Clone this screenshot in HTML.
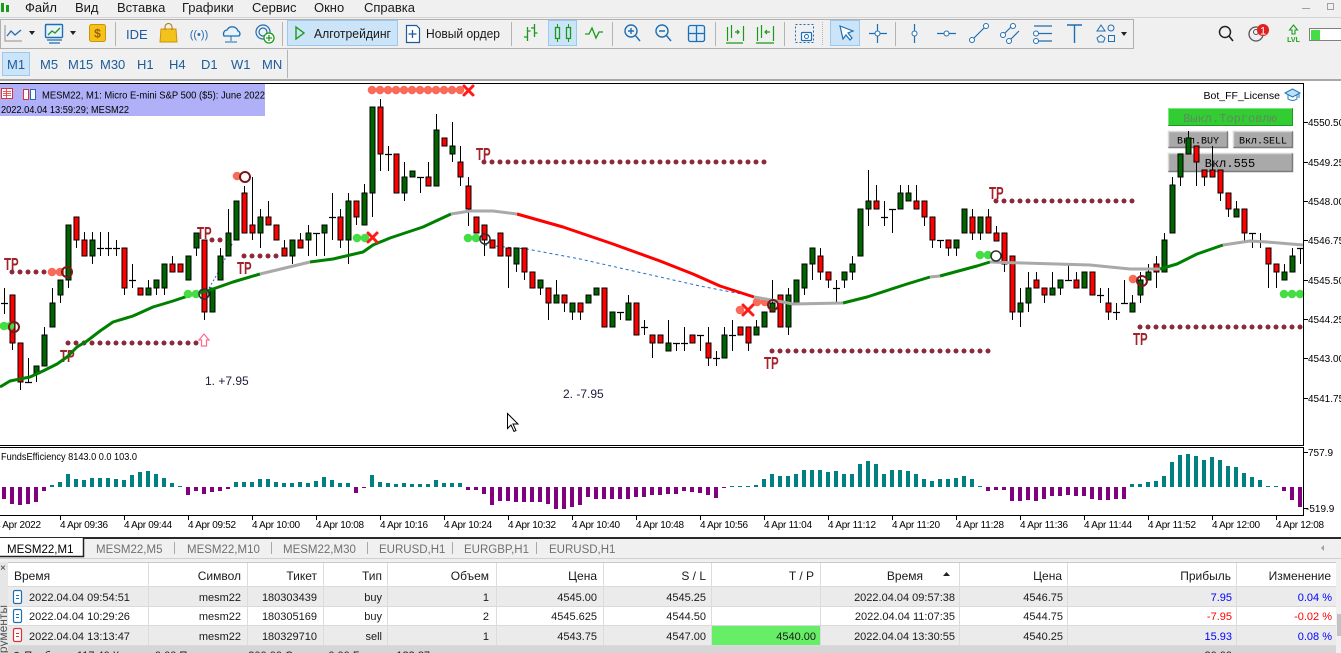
<!DOCTYPE html>
<html><head><meta charset="utf-8">
<style>
html,body{margin:0;padding:0;background:#f0f0f0;overflow:hidden;}
svg{display:block;font-family:"Liberation Sans","DejaVu Sans",sans-serif;}
.mono{font-family:"Liberation Mono","DejaVu Sans Mono",monospace;}
</style></head><body>
<svg width="1341" height="653" viewBox="0 0 1341 653" xmlns="http://www.w3.org/2000/svg">
<rect width="1341" height="653" fill="#f0f0f0"/>

<!-- MENU -->
<g fill="#1a9a1a"><rect x="1" y="3" width="3" height="9"/><rect x="6" y="5" width="3" height="7"/></g>
<g font-size="13" fill="#1a1a1a">
<text x="25" y="12">Файл</text><text x="75" y="12">Вид</text><text x="117" y="12">Вставка</text>
<text x="182" y="12">Графики</text><text x="252" y="12">Сервис</text><text x="314" y="12">Окно</text><text x="364" y="12">Справка</text>
</g>
<line x1="1302" y1="8.5" x2="1310" y2="8.5" stroke="#a0a0a0"/>
<rect x="1327.5" y="3.5" width="6" height="6" fill="none" stroke="#a0a0a0"/>
<line x1="0" y1="17.5" x2="1341" y2="17.5" stroke="#d4d4d4"/>

<!-- TOOLBAR -->
<rect x="0.5" y="19.5" width="1133" height="29" fill="#f0f0f0" stroke="#b0b0b0"/>
<path d="M5 25V41H22" fill="none" stroke="#909090"/>
<path d="M7 36L11 31L15 35L21 30" fill="none" stroke="#2a6ab0" stroke-width="1.3"/>
<path d="M29 31h6l-3 4z" fill="#222"/>
<rect x="45.5" y="24.5" width="17" height="13" rx="1" fill="#eaf2fb" stroke="#1e6eb4" stroke-width="1.4"/>
<path d="M48 35l4-4 3 2 5-5" fill="none" stroke="#1a9a1a" stroke-width="1.3"/>
<path d="M47 40h15M49 43h11" stroke="#1e6eb4" stroke-width="1.3"/>
<path d="M70 31h6l-3 4z" fill="#222"/>
<rect x="89.5" y="24.5" width="16" height="17" rx="2" fill="#f6c21a" stroke="#c8960a"/>
<text x="97.5" y="37.5" font-size="12" font-weight="bold" fill="#9a6400" text-anchor="middle">$</text>
<line x1="115.5" y1="22" x2="115.5" y2="46" stroke="#b4b4b4"/>
<text x="126" y="39" font-size="13" fill="#1e5aa0">IDE</text>
<path d="M161 29h15l1 13h-17z" fill="#f3c21b" stroke="#c8960a"/>
<path d="M165 30v-3a3.5 3.5 0 0 1 7 0v3" fill="none" stroke="#b07800"/>
<text x="199" y="38" font-size="11" fill="#2a6ab4" text-anchor="middle">((•))</text>
<path d="M224 36a4 4 0 0 1 3-6a6 6 0 0 1 11 1a3 3 0 0 1 1 5z" fill="#e8f2fb" stroke="#1e6eb4" stroke-width="1.3"/>
<path d="M231 36v5M225 42h12" stroke="#1e6eb4"/>
<circle cx="263" cy="32" r="7" fill="none" stroke="#1e6eb4" stroke-width="1.2"/>
<circle cx="263" cy="32" r="4" fill="none" stroke="#1e6eb4" stroke-width="1.2"/>
<circle cx="269" cy="38" r="5" fill="#fff" stroke="#1a9a1a" stroke-width="1.3"/>
<path d="M269 35v6M266 38h6" stroke="#1a9a1a" stroke-width="1.3"/>
<line x1="282.5" y1="22" x2="282.5" y2="46" stroke="#b4b4b4"/>
<rect x="287.5" y="20.5" width="110" height="25" fill="#cce4f7" stroke="#99c9ef"/>
<path d="M296 27l8 6l-8 6z" fill="none" stroke="#1a9a1a" stroke-width="1.4"/>
<text x="314" y="38" font-size="13" fill="#1a1a1a" textLength="77" lengthAdjust="spacingAndGlyphs">Алготрейдинг</text>
<path d="M406.5 25.5h10l3 3v14h-13z" fill="#fff" stroke="#1e5aa0" stroke-width="1.2"/>
<path d="M412.5 30v8M408.5 34h8" stroke="#1e5aa0" stroke-width="1.3"/>
<text x="426" y="38" font-size="13" fill="#1a1a1a" textLength="74" lengthAdjust="spacingAndGlyphs">Новый ордер</text>
<line x1="511.5" y1="22" x2="511.5" y2="46" stroke="#b4b4b4"/>
<path d="M527.5 27v14M524 37h3.5M527.5 31h3M534.5 24v13M531 28h3.5M534.5 33h3" stroke="#1a9a1a" stroke-width="1.3" fill="none"/>
<rect x="548.5" y="20.5" width="28" height="25" fill="#cce4f7" stroke="#99c9ef"/>
<path d="M557.5 24v18M568.5 24v18" stroke="#1a9a1a"/>
<rect x="555.5" y="27.5" width="4" height="11" fill="#cce4f7" stroke="#1a9a1a" stroke-width="1.3"/>
<rect x="566.5" y="27.5" width="4" height="11" fill="#cce4f7" stroke="#1a9a1a" stroke-width="1.3"/>
<path d="M585 34h4l3-6l4 10l3-6h4" fill="none" stroke="#1a9a1a" stroke-width="1.3"/>
<line x1="612.5" y1="22" x2="612.5" y2="46" stroke="#b4b4b4"/>
<circle cx="631" cy="31" r="6" fill="none" stroke="#1e6eb4" stroke-width="1.4"/>
<path d="M628 31h6M631 28v6M635 35l5 6" stroke="#1e6eb4" stroke-width="1.4"/>
<circle cx="662" cy="31" r="6" fill="none" stroke="#1e6eb4" stroke-width="1.4"/>
<path d="M659 31h6M666 35l5 6" stroke="#1e6eb4" stroke-width="1.4"/>
<rect x="688.5" y="25.5" width="16" height="16" rx="2" fill="#e0ecf8" stroke="#1e6eb4" stroke-width="1.3"/>
<path d="M696.5 26v15M689 33.5h15" stroke="#1e6eb4" stroke-width="1.3"/>
<line x1="715.5" y1="22" x2="715.5" y2="46" stroke="#b4b4b4"/>
<path d="M727.5 27v14M731.5 25v13M739 32h-4M737 30l2 2l-2 2M743.5 26v15M726 43h17" stroke="#1a9a1a" stroke-width="1.2" fill="none"/>
<path d="M757.5 27v14M761.5 25v13M765 32h5M767 30l-2 2l2 2M773.5 26v15M756 43h18" stroke="#1a9a1a" stroke-width="1.2" fill="none"/>
<line x1="784.5" y1="22" x2="784.5" y2="46" stroke="#b4b4b4"/>
<rect x="795.5" y="24.5" width="18" height="18" fill="none" stroke="#1e6eb4" stroke-dasharray="2,2"/>
<rect x="801.5" y="32.5" width="10" height="8" rx="1" fill="#fff" stroke="#1e6eb4" stroke-width="1.2"/>
<circle cx="806.5" cy="36.5" r="2" fill="none" stroke="#1e6eb4"/>
<line x1="822.5" y1="22" x2="822.5" y2="46" stroke="#b4b4b4" stroke-dasharray="1,1"/>
<rect x="830.5" y="20.5" width="29" height="25" fill="#cce4f7" stroke="#99c9ef"/>
<path d="M840 26l13 5l-5 2l4 5l-2 2l-4-5l-3 4z" fill="#fff" stroke="#1e6eb4" stroke-width="1.2"/>
<path d="M877.5 24v19M869 33.5h18" stroke="#1e6eb4" stroke-width="1.2"/>
<circle cx="877.5" cy="33.5" r="2.5" fill="#fff" stroke="#1e6eb4"/>
<line x1="895.5" y1="22" x2="895.5" y2="46" stroke="#b4b4b4"/>
<path d="M914.5 24v19" stroke="#1e6eb4" stroke-width="1.2"/><circle cx="914.5" cy="33.5" r="2.5" fill="#fff" stroke="#1e6eb4"/>
<path d="M937 33.5h19" stroke="#1e6eb4" stroke-width="1.2"/><circle cx="946.5" cy="33.5" r="2.5" fill="#fff" stroke="#1e6eb4"/>
<path d="M971 41l16-16" stroke="#1e6eb4" stroke-width="1.2"/><circle cx="972" cy="40" r="2.5" fill="#fff" stroke="#1e6eb4"/><circle cx="986" cy="26" r="2.5" fill="#fff" stroke="#1e6eb4"/>
<path d="M1002 36l11-11M1008 42l11-11" stroke="#1e6eb4" stroke-width="1.2"/><circle cx="1003" cy="35" r="2.5" fill="#fff" stroke="#1e6eb4"/><circle cx="1013" cy="26" r="2.5" fill="#fff" stroke="#1e6eb4"/><circle cx="1009" cy="41" r="2.5" fill="#fff" stroke="#1e6eb4"/>
<path d="M1034 26h18M1037 33.5h15M1037 41h15" stroke="#1e6eb4" stroke-width="1.3"/><circle cx="1036" cy="33.5" r="2.5" fill="#fff" stroke="#1e6eb4"/><circle cx="1036" cy="41" r="2.5" fill="#fff" stroke="#1e6eb4"/>
<path d="M1067 25h15M1074.5 25v18" stroke="#1e6eb4" stroke-width="1.4"/>
<path d="M1101 25l4 6h-8z" fill="none" stroke="#1e6eb4"/><circle cx="1111" cy="28" r="3" fill="none" stroke="#1e6eb4"/>
<path d="M1101 35l4 3l-1.5 4h-5l-1.5-4z" fill="none" stroke="#1e6eb4"/><rect x="1108.5" y="35.5" width="6" height="6" fill="none" stroke="#1e6eb4"/>
<path d="M1121 32h6l-3 4z" fill="#222"/>
<circle cx="1225" cy="32" r="5.5" fill="none" stroke="#222" stroke-width="1.5"/><path d="M1229 36l4 5" stroke="#222" stroke-width="1.6"/>
<circle cx="1256" cy="34" r="7" fill="none" stroke="#555" stroke-width="1.3"/><circle cx="1256" cy="32" r="2.5" fill="none" stroke="#555"/>
<circle cx="1263" cy="30" r="6" fill="#e02020"/><text x="1263" y="34.5" font-size="11" fill="#fff" text-anchor="middle">1</text>
<path d="M1293.5 25l4 5h-2.5v4h-3v-4h-2.5z" fill="none" stroke="#1aa01a" stroke-width="1.1"/>
<text x="1293.5" y="42" font-size="7" fill="#1aa01a" text-anchor="middle" font-weight="bold">LVL</text>
<rect x="1309.5" y="28.5" width="34" height="12" fill="#fff" stroke="#808080"/>
<rect x="1311" y="30" width="9" height="10" fill="#44dd44"/>

<!-- TIMEFRAMES -->
<rect x="2.5" y="52.5" width="27" height="23" fill="#cce4f7" stroke="#99c9ef"/>
<g font-size="13" fill="#1c5b9c">
<text x="7" y="69">M1</text><text x="40" y="69">M5</text><text x="68" y="69">M15</text><text x="100" y="69">M30</text>
<text x="137" y="69">H1</text><text x="169" y="69">H4</text><text x="201" y="69">D1</text><text x="231" y="69">W1</text><text x="262" y="69">MN</text>
</g>
<line x1="287.5" y1="50" x2="287.5" y2="78" stroke="#b4b4b4"/>
<rect x="0" y="79" width="1341" height="2" fill="#a8a8a8"/>

<!-- CHART AREA -->
<rect x="0" y="81" width="1341" height="456" fill="#ffffff"/>
<rect x="0" y="84" width="265" height="32" fill="#b0b0f8"/>
<rect x="1.5" y="88.5" width="11" height="10" fill="#fff" stroke="#e03030"/>
<path d="M3 91.5h8M3 93.5h8M3 95.5h8M6.5 89v9" stroke="#e03030" stroke-width="0.8"/>
<path d="M23.5 89.5h5v10h-5z" fill="#fff" stroke="#e03030"/><path d="M30.5 89.5h5v10h-5z" fill="#fff" stroke="#1e6eb4"/>
<text x="42" y="98.5" font-size="10" fill="#000" textLength="223" lengthAdjust="spacingAndGlyphs">MESM22, M1:  Micro E-mini S&amp;P 500 ($5): June 2022</text>
<text x="1" y="113" font-size="10" fill="#000" textLength="128" lengthAdjust="spacingAndGlyphs">2022.04.04 13:59:29; MESM22</text>

<!-- right panel -->
<text x="1280" y="99" font-size="10.5" fill="#000" text-anchor="end">Bot_FF_License</text>
<path d="M1285 93l7.5-4l7.5 4l-7.5 4z" fill="#bfe0f8" stroke="#1e7ac0"/><path d="M1288 95v4c3 2 6 2 9 0v-4M1299 93v5" fill="none" stroke="#1e7ac0"/>

<rect x="1168" y="108" width="125" height="18" fill="#32cd32"/>
<path d="M1168.5 125.5V108.5H1292.5" fill="none" stroke="#7ee67e"/><path d="M1168.5 125.5H1292.5V108.5" fill="none" stroke="#1e9a1e"/>
<text x="1230" y="122" font-size="12" class="mono" fill="#5f8a5f" text-anchor="middle">Выкл.Торговлю</text>
<rect x="1168" y="131" width="60" height="17" fill="#a9a9a9"/>
<path d="M1168.5 147.5V131.5H1227.5" fill="none" stroke="#d8d8d8" stroke-width="1.5"/><path d="M1168.5 147.5H1227.5V131.5" fill="none" stroke="#7a7a7a" stroke-width="1.5"/>
<text x="1198" y="143.5" font-size="10" class="mono" fill="#000" text-anchor="middle">Вкл.BUY</text>
<rect x="1233" y="131" width="60" height="17" fill="#a9a9a9"/>
<path d="M1233.5 147.5V131.5H1292.5" fill="none" stroke="#d8d8d8" stroke-width="1.5"/><path d="M1233.5 147.5H1292.5V131.5" fill="none" stroke="#7a7a7a" stroke-width="1.5"/>
<text x="1263" y="143.5" font-size="10" class="mono" fill="#000" text-anchor="middle">Вкл.SELL</text>
<rect x="1168" y="153" width="125" height="19" fill="#a9a9a9"/>
<path d="M1168.5 171.5V153.5H1292.5" fill="none" stroke="#d8d8d8" stroke-width="1.5"/><path d="M1168.5 171.5H1292.5V153.5" fill="none" stroke="#7a7a7a" stroke-width="1.5"/>
<text x="1230" y="167" font-size="12" class="mono" fill="#000" text-anchor="middle">Вкл.555</text>

<!-- trade lines -->
<polyline points="205,295 212,283 219,271 226,257 233,242" fill="none" stroke="#1e6ec8" stroke-dasharray="2,2"/>
<polyline points="484,245 527,249 580,259 660,277 700,286 757,297 772,303" fill="none" stroke="#1e6ec8" stroke-dasharray="3,3"/>

<!-- TP dotted lines -->
<g fill="#8c2a3c">
<circle cx="12" cy="272" r="2.5"/><circle cx="20" cy="272" r="2.5"/><circle cx="28" cy="272" r="2.5"/><circle cx="36" cy="272" r="2.5"/><circle cx="44" cy="272" r="2.5"/>
<circle cx="68" cy="343" r="2.5"/><circle cx="76" cy="343" r="2.5"/><circle cx="84" cy="343" r="2.5"/><circle cx="92" cy="343" r="2.5"/><circle cx="100" cy="343" r="2.5"/><circle cx="108" cy="343" r="2.5"/><circle cx="116" cy="343" r="2.5"/><circle cx="124" cy="343" r="2.5"/><circle cx="132" cy="343" r="2.5"/><circle cx="140" cy="343" r="2.5"/><circle cx="148" cy="343" r="2.5"/><circle cx="156" cy="343" r="2.5"/><circle cx="164" cy="343" r="2.5"/><circle cx="172" cy="343" r="2.5"/><circle cx="180" cy="343" r="2.5"/><circle cx="188" cy="343" r="2.5"/><circle cx="196" cy="343" r="2.5"/>
<circle cx="212" cy="240" r="2.5"/><circle cx="220" cy="240" r="2.5"/>
<circle cx="244" cy="256" r="2.5"/><circle cx="252" cy="256" r="2.5"/><circle cx="260" cy="256" r="2.5"/><circle cx="268" cy="256" r="2.5"/><circle cx="276" cy="256" r="2.5"/>
<circle cx="484" cy="162" r="2.5"/><circle cx="492" cy="162" r="2.5"/><circle cx="500" cy="162" r="2.5"/><circle cx="508" cy="162" r="2.5"/><circle cx="516" cy="162" r="2.5"/><circle cx="524" cy="162" r="2.5"/><circle cx="532" cy="162" r="2.5"/><circle cx="540" cy="162" r="2.5"/><circle cx="548" cy="162" r="2.5"/><circle cx="556" cy="162" r="2.5"/><circle cx="564" cy="162" r="2.5"/><circle cx="572" cy="162" r="2.5"/><circle cx="580" cy="162" r="2.5"/><circle cx="588" cy="162" r="2.5"/><circle cx="596" cy="162" r="2.5"/><circle cx="604" cy="162" r="2.5"/><circle cx="612" cy="162" r="2.5"/><circle cx="620" cy="162" r="2.5"/><circle cx="628" cy="162" r="2.5"/><circle cx="636" cy="162" r="2.5"/><circle cx="644" cy="162" r="2.5"/><circle cx="652" cy="162" r="2.5"/><circle cx="660" cy="162" r="2.5"/><circle cx="668" cy="162" r="2.5"/><circle cx="676" cy="162" r="2.5"/><circle cx="684" cy="162" r="2.5"/><circle cx="692" cy="162" r="2.5"/><circle cx="700" cy="162" r="2.5"/><circle cx="708" cy="162" r="2.5"/><circle cx="716" cy="162" r="2.5"/><circle cx="724" cy="162" r="2.5"/><circle cx="732" cy="162" r="2.5"/><circle cx="740" cy="162" r="2.5"/><circle cx="748" cy="162" r="2.5"/><circle cx="756" cy="162" r="2.5"/><circle cx="764" cy="162" r="2.5"/>
<circle cx="772" cy="351" r="2.5"/><circle cx="780" cy="351" r="2.5"/><circle cx="788" cy="351" r="2.5"/><circle cx="796" cy="351" r="2.5"/><circle cx="804" cy="351" r="2.5"/><circle cx="812" cy="351" r="2.5"/><circle cx="820" cy="351" r="2.5"/><circle cx="828" cy="351" r="2.5"/><circle cx="836" cy="351" r="2.5"/><circle cx="844" cy="351" r="2.5"/><circle cx="852" cy="351" r="2.5"/><circle cx="860" cy="351" r="2.5"/><circle cx="868" cy="351" r="2.5"/><circle cx="876" cy="351" r="2.5"/><circle cx="884" cy="351" r="2.5"/><circle cx="892" cy="351" r="2.5"/><circle cx="900" cy="351" r="2.5"/><circle cx="908" cy="351" r="2.5"/><circle cx="916" cy="351" r="2.5"/><circle cx="924" cy="351" r="2.5"/><circle cx="932" cy="351" r="2.5"/><circle cx="940" cy="351" r="2.5"/><circle cx="948" cy="351" r="2.5"/><circle cx="956" cy="351" r="2.5"/><circle cx="964" cy="351" r="2.5"/><circle cx="972" cy="351" r="2.5"/><circle cx="980" cy="351" r="2.5"/><circle cx="988" cy="351" r="2.5"/>
<circle cx="996" cy="201" r="2.5"/><circle cx="1004" cy="201" r="2.5"/><circle cx="1012" cy="201" r="2.5"/><circle cx="1020" cy="201" r="2.5"/><circle cx="1028" cy="201" r="2.5"/><circle cx="1036" cy="201" r="2.5"/><circle cx="1044" cy="201" r="2.5"/><circle cx="1052" cy="201" r="2.5"/><circle cx="1060" cy="201" r="2.5"/><circle cx="1068" cy="201" r="2.5"/><circle cx="1076" cy="201" r="2.5"/><circle cx="1084" cy="201" r="2.5"/><circle cx="1092" cy="201" r="2.5"/><circle cx="1100" cy="201" r="2.5"/><circle cx="1108" cy="201" r="2.5"/><circle cx="1116" cy="201" r="2.5"/><circle cx="1124" cy="201" r="2.5"/><circle cx="1132" cy="201" r="2.5"/>
<circle cx="1140" cy="327" r="2.5"/><circle cx="1148" cy="327" r="2.5"/><circle cx="1156" cy="327" r="2.5"/><circle cx="1164" cy="327" r="2.5"/><circle cx="1172" cy="327" r="2.5"/><circle cx="1180" cy="327" r="2.5"/><circle cx="1188" cy="327" r="2.5"/><circle cx="1196" cy="327" r="2.5"/><circle cx="1204" cy="327" r="2.5"/><circle cx="1212" cy="327" r="2.5"/><circle cx="1220" cy="327" r="2.5"/><circle cx="1228" cy="327" r="2.5"/><circle cx="1236" cy="327" r="2.5"/><circle cx="1244" cy="327" r="2.5"/><circle cx="1252" cy="327" r="2.5"/><circle cx="1260" cy="327" r="2.5"/><circle cx="1268" cy="327" r="2.5"/><circle cx="1276" cy="327" r="2.5"/><circle cx="1284" cy="327" r="2.5"/><circle cx="1292" cy="327" r="2.5"/><circle cx="1300" cy="327" r="2.5"/>
</g>
<!-- salmon dots -->
<g fill="#fa6a58">
<circle cx="372" cy="90" r="4.3"/><circle cx="380" cy="90" r="4.3"/><circle cx="388" cy="90" r="4.3"/><circle cx="396" cy="90" r="4.3"/><circle cx="404" cy="90" r="4.3"/><circle cx="412" cy="90" r="4.3"/><circle cx="420" cy="90" r="4.3"/><circle cx="428" cy="90" r="4.3"/><circle cx="436" cy="90" r="4.3"/><circle cx="444" cy="90" r="4.3"/><circle cx="452" cy="90" r="4.3"/><circle cx="460" cy="90" r="4.3"/>
<circle cx="52" cy="272" r="4.3"/><circle cx="60" cy="272" r="4.3"/>
<circle cx="237" cy="176" r="4.3"/>
<circle cx="740" cy="310" r="4.3"/><circle cx="757" cy="302" r="4.3"/><circle cx="765" cy="302" r="4.3"/>
<circle cx="1133" cy="279" r="4.3"/>
</g>
<!-- TP labels -->
<g font-size="18" font-weight="bold" fill="#a2222a">
<text transform="translate(4,270) scale(0.64,1)">TP</text>
<text transform="translate(60,362) scale(0.64,1)">TP</text>
<text transform="translate(197,239) scale(0.64,1)">TP</text>
<text transform="translate(237,274) scale(0.64,1)">TP</text>
<text transform="translate(476,160) scale(0.64,1)">TP</text>
<text transform="translate(764,369) scale(0.64,1)">TP</text>
<text transform="translate(989,199) scale(0.64,1)">TP</text>
<text transform="translate(1133,345) scale(0.64,1)">TP</text>
</g>
<path d="M204 334l5 6h-2.5v6h-5v-6h-2.5z" fill="#fff" stroke="#ff6a8a" stroke-width="1.2"/>

<!-- CANDLES -->
<path stroke="#000" stroke-width="1" fill="none" d="M4.5 288V314M12.5 295V350M20.5 343V390M28.5 358V382M36.5 366V382M44.5 327V366M52.5 288V327M60.5 280V303M68.5 225V288M76.5 217V248M84.5 232V256M92.5 232V264M100.5 232V256M108.5 232V256M116.5 240V256M124.5 248V295M132.5 264V288M148.5 280V295M156.5 280V295M164.5 264V295M172.5 256V272M196.5 233V256M204.5 240V320M220.5 248V280M228.5 209V256M244.5 186V233M252.5 177V240M260.5 209V248M268.5 201V225M284.5 240V256M292.5 240V264M300.5 233V248M308.5 225V256M316.5 233V256M324.5 225V256M332.5 193V240M340.5 209V248M348.5 193V264M356.5 201V225M364.5 184V225M372.5 107V217M380.5 99V171M388.5 146V171M404.5 162V201M420.5 177V193M428.5 162V186M436.5 114V186M452.5 122V162M460.5 146V186M468.5 177V226M484.5 225V256M508.5 248V288M516.5 248V272M524.5 248V280M540.5 280V295M548.5 288V320M556.5 280V303M564.5 295V312M572.5 303V320M580.5 303V320M620.5 312V320M628.5 295V320M644.5 320V335M652.5 335V358M668.5 320V351M676.5 343V351M684.5 327V351M700.5 335V351M708.5 327V366M716.5 351V366M724.5 327V358M732.5 320V351M748.5 327V351M756.5 320V335M772.5 280V312M788.5 288V335M804.5 264V295M812.5 248V280M820.5 248V280M828.5 272V288M836.5 280V303M844.5 272V288M852.5 256V280M868.5 170V226M876.5 185V209M884.5 201V226M892.5 209V233M900.5 185V209M908.5 185V201M916.5 185V209M924.5 201V226M932.5 217V248M940.5 240V248M948.5 240V256M956.5 240V256M972.5 209V240M980.5 217V240M988.5 209V233M996.5 226V241M1004.5 233V272M1012.5 256V320M1020.5 288V327M1028.5 272V312M1036.5 272V288M1044.5 288V303M1052.5 272V295M1060.5 280V295M1068.5 264V280M1076.5 272V288M1100.5 288V303M1108.5 288V320M1116.5 303V320M1124.5 280V303M1132.5 295V312M1140.5 272V303M1148.5 264V280M1156.5 256V288M1164.5 233V272M1172.5 177V233M1180.5 154V186M1188.5 131V154M1196.5 146V186M1204.5 170V186M1212.5 146V177M1220.5 170V201M1228.5 193V217M1236.5 201V217M1244.5 209V241M1252.5 233V248M1260.5 233V248M1268.5 248V288M1276.5 264V288M1284.5 264V280M1292.5 248V272M1300.5 248V264"/>
<path stroke="#000" stroke-width="1.2" fill="none" d="M1 303.5h7M25 382.5h7M97 248.5h7M105 248.5h7M113 248.5h7M129 280.5h7M313 233.5h7M329 217.5h7M385 154.5h7M417 177.5h7M617 312.5h7M641 327.5h7M673 343.5h7M681 343.5h7M697 335.5h7M713 358.5h7M729 335.5h7M833 288.5h7M881 217.5h7M889 209.5h7M937 240.5h7M1065 280.5h7M1097 295.5h7M1113 312.5h7M1121 303.5h7M1249 233.5h7M1257 241.5h7M1297 248.5h7"/>
<g fill="#ff0000" stroke="#000" stroke-width="1">
<rect x="10" y="295" width="5" height="48"/><rect x="18" y="343" width="5" height="39"/><rect x="74" y="217" width="5" height="23"/><rect x="82" y="240" width="5" height="16"/><rect x="122" y="248" width="5" height="40"/><rect x="138" y="288" width="5" height="7"/><rect x="170" y="264" width="5" height="8"/><rect x="178" y="264" width="5" height="8"/><rect x="202" y="240" width="5" height="72"/><rect x="242" y="193" width="5" height="40"/><rect x="250" y="225" width="5" height="8"/><rect x="266" y="217" width="5" height="8"/><rect x="274" y="225" width="5" height="15"/><rect x="282" y="248" width="5" height="8"/><rect x="298" y="240" width="5" height="8"/>
<rect x="338" y="217" width="5" height="23"/><rect x="354" y="201" width="5" height="16"/><rect x="378" y="107" width="5" height="47"/><rect x="394" y="154" width="5" height="39"/><rect x="426" y="177" width="5" height="9"/><rect x="442" y="138" width="5" height="8"/><rect x="458" y="162" width="5" height="15"/><rect x="466" y="186" width="5" height="23"/><rect x="474" y="217" width="5" height="16"/><rect x="482" y="225" width="5" height="15"/><rect x="490" y="240" width="5" height="8"/><rect x="498" y="233" width="5" height="23"/><rect x="506" y="248" width="5" height="8"/><rect x="522" y="248" width="5" height="24"/><rect x="530" y="272" width="5" height="16"/><rect x="546" y="288" width="5" height="15"/><rect x="562" y="295" width="5" height="8"/><rect x="578" y="303" width="5" height="9"/><rect x="602" y="288" width="5" height="39"/><rect x="634" y="303" width="5" height="32"/><rect x="650" y="335" width="5" height="8"/><rect x="658" y="335" width="5" height="8"/>
<rect x="690" y="335" width="5" height="8"/><rect x="706" y="343" width="5" height="15"/><rect x="738" y="327" width="5" height="8"/><rect x="746" y="327" width="5" height="16"/><rect x="778" y="295" width="5" height="32"/><rect x="818" y="256" width="5" height="16"/><rect x="826" y="272" width="5" height="8"/><rect x="874" y="201" width="5" height="8"/><rect x="914" y="201" width="5" height="8"/><rect x="922" y="201" width="5" height="16"/><rect x="930" y="217" width="5" height="23"/><rect x="946" y="240" width="5" height="8"/><rect x="970" y="217" width="5" height="16"/><rect x="986" y="217" width="5" height="16"/>
<rect x="994" y="233" width="5" height="8"/><rect x="1002" y="233" width="5" height="31"/><rect x="1010" y="256" width="5" height="56"/><rect x="1034" y="280" width="5" height="8"/><rect x="1042" y="288" width="5" height="7"/><rect x="1074" y="280" width="5" height="8"/><rect x="1090" y="272" width="5" height="23"/><rect x="1106" y="303" width="5" height="9"/><rect x="1154" y="264" width="5" height="8"/><rect x="1194" y="146" width="5" height="16"/><rect x="1202" y="170" width="5" height="7"/><rect x="1210" y="170" width="5" height="7"/><rect x="1218" y="170" width="5" height="23"/><rect x="1226" y="193" width="5" height="16"/><rect x="1242" y="209" width="5" height="24"/><rect x="1266" y="248" width="5" height="16"/><rect x="1274" y="264" width="5" height="8"/>
</g>
<g fill="#006400" stroke="#000" stroke-width="1">
<rect x="34" y="366" width="5" height="8"/><rect x="42" y="335" width="5" height="31"/><rect x="50" y="303" width="5" height="24"/><rect x="58" y="280" width="5" height="15"/><rect x="66" y="225" width="5" height="55"/><rect x="90" y="240" width="5" height="16"/><rect x="146" y="288" width="5" height="7"/><rect x="154" y="280" width="5" height="8"/><rect x="162" y="264" width="5" height="24"/><rect x="186" y="256" width="5" height="24"/><rect x="194" y="233" width="5" height="15"/><rect x="210" y="288" width="5" height="24"/><rect x="218" y="256" width="5" height="24"/><rect x="226" y="233" width="5" height="23"/><rect x="234" y="201" width="5" height="39"/><rect x="258" y="217" width="5" height="16"/><rect x="290" y="240" width="5" height="16"/><rect x="306" y="233" width="5" height="7"/><rect x="322" y="225" width="5" height="8"/>
<rect x="346" y="201" width="5" height="39"/><rect x="362" y="193" width="5" height="32"/><rect x="370" y="107" width="5" height="86"/><rect x="402" y="177" width="5" height="16"/><rect x="410" y="171" width="5" height="6"/><rect x="434" y="130" width="5" height="56"/><rect x="450" y="146" width="5" height="8"/><rect x="514" y="248" width="5" height="16"/><rect x="538" y="280" width="5" height="8"/><rect x="554" y="295" width="5" height="8"/><rect x="570" y="303" width="5" height="9"/><rect x="586" y="295" width="5" height="8"/><rect x="594" y="288" width="5" height="7"/><rect x="610" y="312" width="5" height="15"/><rect x="626" y="303" width="5" height="17"/>
<rect x="666" y="343" width="5" height="8"/><rect x="722" y="335" width="5" height="23"/><rect x="754" y="327" width="5" height="8"/><rect x="762" y="312" width="5" height="15"/><rect x="770" y="303" width="5" height="9"/><rect x="786" y="295" width="5" height="32"/><rect x="794" y="280" width="5" height="23"/><rect x="802" y="264" width="5" height="24"/><rect x="810" y="248" width="5" height="16"/><rect x="842" y="272" width="5" height="8"/><rect x="850" y="264" width="5" height="8"/><rect x="858" y="209" width="5" height="47"/><rect x="866" y="201" width="5" height="8"/><rect x="898" y="193" width="5" height="16"/><rect x="906" y="193" width="5" height="8"/><rect x="954" y="240" width="5" height="8"/><rect x="962" y="209" width="5" height="24"/><rect x="978" y="217" width="5" height="16"/>
<rect x="1018" y="303" width="5" height="9"/><rect x="1026" y="288" width="5" height="15"/><rect x="1050" y="288" width="5" height="7"/><rect x="1058" y="280" width="5" height="8"/><rect x="1082" y="272" width="5" height="16"/><rect x="1130" y="303" width="5" height="9"/><rect x="1138" y="280" width="5" height="15"/><rect x="1146" y="272" width="5" height="8"/><rect x="1162" y="240" width="5" height="32"/><rect x="1170" y="185" width="5" height="48"/><rect x="1178" y="154" width="5" height="23"/><rect x="1186" y="138" width="5" height="16"/><rect x="1234" y="209" width="5" height="8"/><rect x="1282" y="272" width="5" height="8"/><rect x="1290" y="256" width="5" height="16"/>
</g>

<!-- MOVING AVERAGE -->
<g fill="none" stroke-width="3" stroke-linejoin="round">
<polyline stroke="#008000" points="0,387 10,381 30,377 43,371 57,364 67,357 77,347 87,341 100,331 113,322 133,316 153,307 173,301 188,296"/>
<polyline stroke="#a9a9a9" points="188,296 200,293"/>
<polyline stroke="#008000" points="200,293 213,289 233,282 260,274"/>
<polyline stroke="#a9a9a9" points="260,274 285,268 310,262"/>
<polyline stroke="#008000" points="310,262 333,259 363,252 373,245 390,238 423,227 451,214"/>
<polyline stroke="#a9a9a9" points="451,214 470,211 493,211 517,214"/>
<polyline stroke="#ff0000" points="517,214 563,227 613,244 660,261 693,274 720,286 754,297"/>
<polyline stroke="#a9a9a9" points="754,297 783,302 793,304 843,303"/>
<polyline stroke="#008000" points="843,303 867,297 907,284 930,277"/>
<polyline stroke="#a9a9a9" points="930,277 940,276"/>
<polyline stroke="#008000" points="940,276 977,266 990,262"/>
<polyline stroke="#a9a9a9" points="990,262 1023,263 1090,265 1130,269 1160,269"/>
<polyline stroke="#008000" points="1160,269 1177,264 1197,254 1223,245"/>
<polyline stroke="#a9a9a9" points="1223,245 1250,241 1267,242 1303,245"/>
</g>

<!-- green dots -->
<g fill="#44dd44">
<circle cx="4" cy="326" r="4.3"/><circle cx="10" cy="326" r="4.3"/>
<circle cx="188" cy="294" r="4.3"/><circle cx="196" cy="294" r="4.3"/>
<circle cx="357" cy="238" r="4.3"/><circle cx="365" cy="238" r="4.3"/>
<circle cx="468" cy="238" r="4.3"/><circle cx="476" cy="238" r="4.3"/>
<circle cx="980" cy="255" r="4.3"/><circle cx="988" cy="255" r="4.3"/>
<circle cx="1284" cy="294" r="4.3"/><circle cx="1292" cy="294" r="4.3"/><circle cx="1300" cy="294" r="4.3"/>
</g>
<!-- markers -->
<g fill="none" stroke="#7a1818" stroke-width="2">
<circle cx="14" cy="327" r="5"/><circle cx="67" cy="272" r="5"/><circle cx="245" cy="177" r="5"/><circle cx="773" cy="305" r="5"/><circle cx="1142" cy="281" r="5"/>
</g>
<g fill="none" stroke="#303030" stroke-width="1.5">
<circle cx="204" cy="294" r="5"/><circle cx="485" cy="239" r="5"/><circle cx="996" cy="256" r="5"/>
</g>
<g stroke="#ff1a1a" stroke-width="3" stroke-linecap="round">
<path d="M464 86l9 9M473 86l-9 9"/>
<path d="M368 233l9 9M377 233l-9 9"/>
<path d="M743 305l10 10M753 305l-10 10"/>
</g>

<text x="205" y="385" font-size="12" fill="#1c1c3c">1. +7.95</text>
<text x="563" y="398" font-size="12" fill="#1c1c3c">2. -7.95</text>
<path d="M507.5 413.5v15l3.5-3.5l3 6.5l2-1l-3-6.5h5z" fill="#fff" stroke="#000"/>

<!-- chart borders -->
<path d="M0 83.5H1303.5V445.5H0M0 447.5H1303.5V515.5H0" fill="none" stroke="#000"/>
<!-- price axis -->
<g stroke="#000"><path d="M1304 122.5h4M1304 162.5h4M1304 201.5h4M1304 240.5h4M1304 280.5h4M1304 319.5h4M1304 358.5h4M1304 398.5h4M1304 452.5h4M1304 508.5h4"/></g>
<g font-size="10" fill="#000">
<text x="1308" y="126">4550.50</text><text x="1308" y="166">4549.25</text><text x="1308" y="205">4548.00</text><text x="1308" y="244">4546.75</text>
<text x="1308" y="284">4545.50</text><text x="1308" y="323">4544.25</text><text x="1308" y="362">4543.00</text><text x="1308" y="402">4541.75</text>
<text x="1308" y="456">757.9</text><text x="1306" y="512">-519.9</text>
</g>

<!-- indicator -->
<text x="1" y="460" font-size="10" fill="#000" textLength="136" lengthAdjust="spacingAndGlyphs">FundsEfficiency 8143.0 0.0 103.0</text>
<g fill="#008080">
<rect x="50" y="485" width="4" height="2"/><rect x="58" y="482" width="4" height="5"/><rect x="66" y="474" width="4" height="13"/><rect x="74" y="479" width="4" height="8"/><rect x="82" y="480" width="4" height="7"/><rect x="90" y="478" width="4" height="9"/><rect x="98" y="478" width="4" height="9"/><rect x="106" y="478" width="4" height="9"/><rect x="114" y="479" width="4" height="8"/><rect x="122" y="480" width="4" height="7"/><rect x="130" y="475" width="4" height="12"/><rect x="138" y="472" width="4" height="15"/><rect x="146" y="471" width="4" height="16"/><rect x="154" y="474" width="4" height="13"/><rect x="162" y="478" width="4" height="9"/><rect x="170" y="483" width="4" height="4"/><rect x="178" y="486" width="4" height="1"/>
<rect x="234" y="482" width="4" height="5"/><rect x="242" y="482" width="4" height="5"/><rect x="250" y="482" width="4" height="5"/><rect x="258" y="479" width="4" height="8"/><rect x="266" y="479" width="4" height="8"/><rect x="274" y="482" width="4" height="5"/><rect x="282" y="483" width="4" height="4"/><rect x="290" y="483" width="4" height="4"/><rect x="298" y="482" width="4" height="5"/><rect x="306" y="483" width="4" height="4"/><rect x="314" y="481" width="4" height="6"/><rect x="322" y="477" width="4" height="10"/><rect x="330" y="480" width="4" height="7"/><rect x="338" y="483" width="4" height="4"/><rect x="346" y="483" width="4" height="4"/>
<rect x="370" y="475" width="4" height="12"/><rect x="378" y="482" width="4" height="5"/><rect x="386" y="483" width="4" height="4"/><rect x="394" y="484" width="4" height="3"/><rect x="402" y="483" width="4" height="4"/><rect x="410" y="484" width="4" height="3"/><rect x="418" y="484" width="4" height="3"/><rect x="426" y="484" width="4" height="3"/><rect x="434" y="480" width="4" height="7"/><rect x="442" y="483" width="4" height="4"/><rect x="450" y="483" width="4" height="4"/><rect x="458" y="483" width="4" height="4"/>
<rect x="730" y="486" width="4" height="1"/><rect x="738" y="486" width="4" height="1"/><rect x="746" y="486" width="4" height="1"/><rect x="754" y="485" width="4" height="2"/><rect x="762" y="479" width="4" height="8"/><rect x="770" y="474" width="4" height="13"/><rect x="778" y="476" width="4" height="11"/><rect x="786" y="476" width="4" height="11"/><rect x="794" y="474" width="4" height="13"/><rect x="802" y="470" width="4" height="17"/><rect x="810" y="470" width="4" height="17"/><rect x="818" y="470" width="4" height="17"/><rect x="826" y="472" width="4" height="15"/><rect x="834" y="471" width="4" height="16"/><rect x="842" y="474" width="4" height="13"/><rect x="850" y="474" width="4" height="13"/><rect x="858" y="464" width="4" height="23"/><rect x="866" y="461" width="4" height="26"/><rect x="874" y="464" width="4" height="23"/><rect x="882" y="474" width="4" height="13"/><rect x="890" y="470" width="4" height="17"/><rect x="898" y="470" width="4" height="17"/><rect x="906" y="471" width="4" height="16"/><rect x="914" y="474" width="4" height="13"/><rect x="922" y="479" width="4" height="8"/><rect x="930" y="481" width="4" height="6"/><rect x="938" y="479" width="4" height="8"/><rect x="946" y="479" width="4" height="8"/><rect x="954" y="478" width="4" height="9"/><rect x="962" y="476" width="4" height="11"/><rect x="970" y="479" width="4" height="8"/><rect x="978" y="486" width="4" height="1"/>
<rect x="1130" y="484" width="4" height="3"/><rect x="1138" y="484" width="4" height="3"/><rect x="1146" y="482" width="4" height="5"/><rect x="1154" y="481" width="4" height="6"/><rect x="1162" y="476" width="4" height="11"/><rect x="1170" y="462" width="4" height="25"/><rect x="1178" y="455" width="4" height="32"/><rect x="1186" y="454" width="4" height="33"/><rect x="1194" y="456" width="4" height="31"/><rect x="1202" y="460" width="4" height="27"/><rect x="1210" y="457" width="4" height="30"/><rect x="1218" y="460" width="4" height="27"/><rect x="1226" y="466" width="4" height="21"/><rect x="1234" y="467" width="4" height="20"/><rect x="1242" y="473" width="4" height="14"/><rect x="1250" y="477" width="4" height="10"/><rect x="1258" y="480" width="4" height="7"/><rect x="1266" y="486" width="4" height="1"/><rect x="1274" y="486" width="4" height="1"/>
</g>
<g fill="#800080">
<rect x="2" y="487" width="4" height="12"/><rect x="10" y="487" width="4" height="17"/><rect x="18" y="487" width="4" height="18"/><rect x="26" y="487" width="4" height="17"/><rect x="34" y="487" width="4" height="15"/><rect x="42" y="487" width="4" height="4"/>
<rect x="186" y="487" width="4" height="8"/><rect x="194" y="487" width="4" height="4"/><rect x="202" y="487" width="4" height="7"/><rect x="210" y="487" width="4" height="5"/><rect x="218" y="487" width="4" height="4"/><rect x="226" y="487" width="4" height="2"/>
<rect x="354" y="487" width="4" height="6"/><rect x="362" y="487" width="4" height="1"/>
<rect x="466" y="487" width="4" height="3"/><rect x="474" y="487" width="4" height="3"/><rect x="482" y="487" width="4" height="7"/><rect x="490" y="487" width="4" height="18"/><rect x="498" y="487" width="4" height="14"/><rect x="506" y="487" width="4" height="14"/><rect x="514" y="487" width="4" height="15"/><rect x="522" y="487" width="4" height="15"/><rect x="530" y="487" width="4" height="15"/><rect x="538" y="487" width="4" height="15"/><rect x="546" y="487" width="4" height="17"/><rect x="554" y="487" width="4" height="22"/><rect x="562" y="487" width="4" height="22"/><rect x="570" y="487" width="4" height="20"/><rect x="578" y="487" width="4" height="18"/><rect x="586" y="487" width="4" height="10"/><rect x="594" y="487" width="4" height="12"/><rect x="602" y="487" width="4" height="12"/><rect x="610" y="487" width="4" height="12"/><rect x="618" y="487" width="4" height="12"/><rect x="626" y="487" width="4" height="12"/><rect x="634" y="487" width="4" height="10"/><rect x="642" y="487" width="4" height="10"/><rect x="650" y="487" width="4" height="8"/><rect x="658" y="487" width="4" height="8"/><rect x="666" y="487" width="4" height="7"/><rect x="674" y="487" width="4" height="7"/><rect x="682" y="487" width="4" height="4"/><rect x="690" y="487" width="4" height="5"/><rect x="698" y="487" width="4" height="6"/><rect x="706" y="487" width="4" height="8"/><rect x="714" y="487" width="4" height="11"/><rect x="722" y="487" width="4" height="1"/>
<rect x="986" y="487" width="4" height="4"/><rect x="994" y="487" width="4" height="3"/><rect x="1002" y="487" width="4" height="3"/><rect x="1010" y="487" width="4" height="14"/><rect x="1018" y="487" width="4" height="14"/><rect x="1026" y="487" width="4" height="13"/><rect x="1034" y="487" width="4" height="14"/><rect x="1042" y="487" width="4" height="12"/><rect x="1050" y="487" width="4" height="9"/><rect x="1058" y="487" width="4" height="9"/><rect x="1066" y="487" width="4" height="8"/><rect x="1074" y="487" width="4" height="9"/><rect x="1082" y="487" width="4" height="9"/><rect x="1090" y="487" width="4" height="12"/><rect x="1098" y="487" width="4" height="13"/><rect x="1106" y="487" width="4" height="13"/><rect x="1114" y="487" width="4" height="12"/><rect x="1122" y="487" width="4" height="12"/>
<rect x="1282" y="487" width="4" height="4"/><rect x="1290" y="487" width="4" height="13"/><rect x="1298" y="487" width="4" height="20"/>
</g>

<!-- time axis -->
<path stroke="#000" d="M60.5 516v4M124.5 516v4M188.5 516v4M252.5 516v4M316.5 516v4M380.5 516v4M444.5 516v4M508.5 516v4M572.5 516v4M636.5 516v4M700.5 516v4M764.5 516v4M828.5 516v4M892.5 516v4M956.5 516v4M1020.5 516v4M1084.5 516v4M1148.5 516v4M1212.5 516v4M1276.5 516v4"/>
<g font-size="10" fill="#000">
<text x="-5" y="528" textLength="46">4 Apr 2022</text>
<text x="60" y="528" textLength="48">4 Apr 09:36</text><text x="124" y="528" textLength="48">4 Apr 09:44</text><text x="188" y="528" textLength="48">4 Apr 09:52</text><text x="252" y="528" textLength="48">4 Apr 10:00</text>
<text x="316" y="528" textLength="48">4 Apr 10:08</text><text x="380" y="528" textLength="48">4 Apr 10:16</text><text x="444" y="528" textLength="48">4 Apr 10:24</text><text x="508" y="528" textLength="48">4 Apr 10:32</text>
<text x="572" y="528" textLength="48">4 Apr 10:40</text><text x="636" y="528" textLength="48">4 Apr 10:48</text><text x="700" y="528" textLength="48">4 Apr 10:56</text><text x="764" y="528" textLength="48">4 Apr 11:04</text>
<text x="828" y="528" textLength="48">4 Apr 11:12</text><text x="892" y="528" textLength="48">4 Apr 11:20</text><text x="956" y="528" textLength="48">4 Apr 11:28</text><text x="1020" y="528" textLength="48">4 Apr 11:36</text>
<text x="1084" y="528" textLength="48">4 Apr 11:44</text><text x="1148" y="528" textLength="48">4 Apr 11:52</text><text x="1212" y="528" textLength="48">4 Apr 12:00</text><text x="1276" y="528" textLength="48">4 Apr 12:08</text>
</g>

<!-- TABS -->
<rect x="0" y="537" width="1341" height="2" fill="#2a2a2a"/>
<rect x="0" y="539" width="1341" height="19" fill="#f0f0f0"/>
<rect x="0" y="538" width="83" height="18" fill="#fff"/>
<path d="M83.5 538V556.5H0" fill="none" stroke="#222" stroke-width="1.5"/>
<text x="7" y="553" font-size="11.5" fill="#000">MESM22,M1</text>
<g font-size="11.5" fill="#707070">
<text x="96" y="553">MESM22,M5</text><text x="187" y="553">MESM22,M10</text><text x="283" y="553">MESM22,M30</text>
<text x="379" y="553">EURUSD,H1</text><text x="464" y="553">EURGBP,H1</text><text x="549" y="553">EURUSD,H1</text>
</g>
<path stroke="#a8a8a8" d="M174.5 542v12M271.5 542v12M367.5 542v12M452.5 542v12M536.5 542v12"/>
<path d="M1324 545v6l-3-3z" fill="#a0a0a0"/>
<line x1="0" y1="558.5" x2="1341" y2="558.5" stroke="#d0d0d0"/>

<!-- TABLE -->
<rect x="0" y="562" width="8" height="91" fill="#e6e6e6"/>
<text x="0" y="571" font-size="10" fill="#333">×</text>
<text transform="translate(7,605) rotate(-90)" font-size="12" fill="#555" text-anchor="end">Инструменты</text>
<rect x="8" y="562" width="1328" height="91" fill="#fff"/>
<line x1="8" y1="562.5" x2="1336" y2="562.5" stroke="#c8c8c8"/>
<rect x="8" y="587" width="1328" height="19" fill="#ebebeb"/>
<rect x="8" y="626" width="1328" height="19" fill="#ebebeb"/>
<rect x="711" y="626" width="109" height="19" fill="#66ee66"/>
<rect x="8" y="646" width="1328" height="7" fill="#d6d6d6"/>
<path stroke="#dadada" d="M8 586.5H1336M8 606.5H1336M8 625.5H1336M8 645.5H1336"/>
<path stroke="#dcdcdc" d="M148.5 563v83M247.5 563v83M323.5 563v83M387.5 563v83M496.5 563v83M603.5 563v83M711.5 563v83M820.5 563v83M959.5 563v83M1067.5 563v83M1236.5 563v83"/>
<rect x="1336" y="562" width="5" height="91" fill="#f0f0f0"/><rect x="1337" y="614" width="4" height="22" fill="#c2c2c2"/>
<g font-size="12" fill="#1a1a1a">
<text x="14" y="580">Время</text>
<text x="241" y="580" text-anchor="end">Символ</text><text x="317" y="580" text-anchor="end">Тикет</text><text x="382" y="580" text-anchor="end">Тип</text>
<text x="489" y="580" text-anchor="end">Объем</text><text x="597" y="580" text-anchor="end">Цена</text><text x="706" y="580" text-anchor="end">S / L</text>
<text x="814" y="580" text-anchor="end">T / P</text><text x="923" y="580" text-anchor="end">Время</text><text x="1062" y="580" text-anchor="end">Цена</text>
<text x="1231" y="580" text-anchor="end">Прибыль</text><text x="1331" y="580" text-anchor="end">Изменение</text>
</g>
<path d="M943 576h7l-3.5-4z" fill="#222"/>
<g fill="#fff" stroke-width="1.2">
<rect x="13.5" y="590.5" width="8" height="13" rx="1.5" stroke="#1e6eb4"/><rect x="13.5" y="609.5" width="8" height="13" rx="1.5" stroke="#1e6eb4"/><rect x="13.5" y="628.5" width="8" height="13" rx="1.5" stroke="#e03030"/>
</g>
<path d="M16 595.5h3M16 598.5h3M16 614.5h3M16 617.5h3" stroke="#1e6eb4"/><path d="M16 633.5h3M16 636.5h3" stroke="#e03030"/>
<g font-size="11" fill="#1a1a1a">
<text x="29" y="601">2022.04.04 09:54:51</text><text x="241" y="601" text-anchor="end">mesm22</text><text x="317" y="601" text-anchor="end">180303439</text><text x="382" y="601" text-anchor="end">buy</text><text x="489" y="601" text-anchor="end">1</text><text x="597" y="601" text-anchor="end">4545.00</text><text x="706" y="601" text-anchor="end">4545.25</text><text x="955" y="601" text-anchor="end">2022.04.04 09:57:38</text><text x="1063" y="601" text-anchor="end">4546.75</text>
<text x="29" y="620">2022.04.04 10:29:26</text><text x="241" y="620" text-anchor="end">mesm22</text><text x="317" y="620" text-anchor="end">180305169</text><text x="382" y="620" text-anchor="end">buy</text><text x="489" y="620" text-anchor="end">2</text><text x="597" y="620" text-anchor="end">4545.625</text><text x="706" y="620" text-anchor="end">4544.50</text><text x="955" y="620" text-anchor="end">2022.04.04 11:07:35</text><text x="1063" y="620" text-anchor="end">4544.75</text>
<text x="29" y="640">2022.04.04 13:13:47</text><text x="241" y="640" text-anchor="end">mesm22</text><text x="317" y="640" text-anchor="end">180329710</text><text x="382" y="640" text-anchor="end">sell</text><text x="489" y="640" text-anchor="end">1</text><text x="597" y="640" text-anchor="end">4543.75</text><text x="706" y="640" text-anchor="end">4547.00</text><text x="816" y="640" text-anchor="end">4540.00</text><text x="955" y="640" text-anchor="end">2022.04.04 13:30:55</text><text x="1063" y="640" text-anchor="end">4540.25</text>
</g>
<g font-size="11" fill="#0000ff">
<text x="1232" y="601" text-anchor="end">7.95</text><text x="1332" y="601" text-anchor="end">0.04 %</text>
<text x="1232" y="640" text-anchor="end">15.93</text><text x="1332" y="640" text-anchor="end">0.08 %</text>
</g>
<g font-size="11" fill="#ff0000">
<text x="1232" y="620" text-anchor="end">-7.95</text><text x="1332" y="620" text-anchor="end">-0.02 %</text>
</g>
<text x="12" y="659" font-size="11" fill="#1a1a1a">⊙  Прибыль: 117.40  Кредит: 0.00  Пополнение: 200.00  Снятие: 0.00  Баланс: 123.87</text>
<text x="1232" y="659" font-size="11" fill="#1a1a1a" text-anchor="end">20.00</text>
</svg>
</body></html>
